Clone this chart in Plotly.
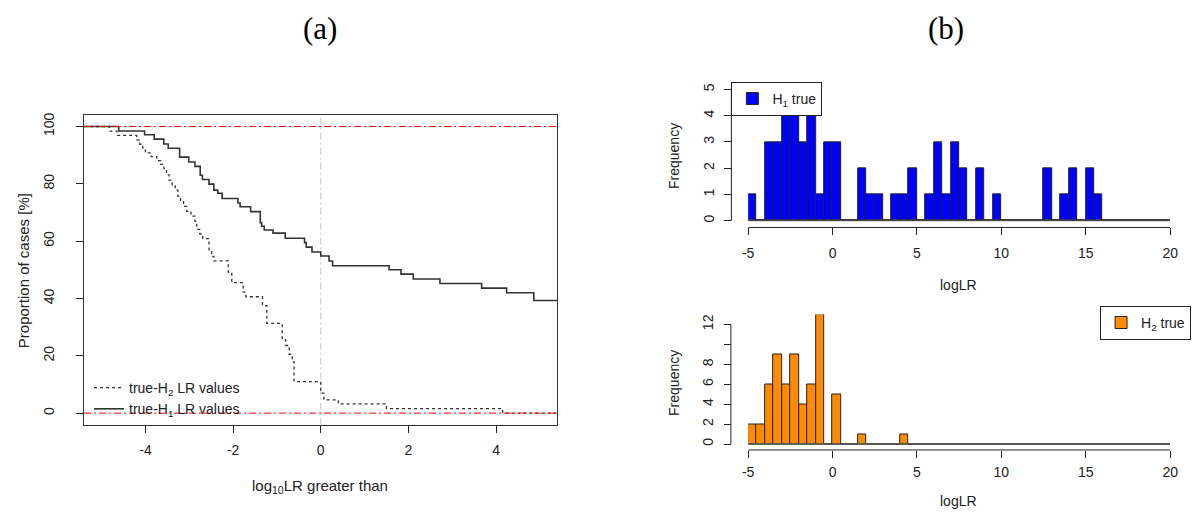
import plotly.graph_objects as go

# ---------------- panel (a): share of cases with log10 LR above a threshold ----------------
h1_x = [-5.4, -4.61, -4.02, -3.80, -3.58, -3.48, -3.22, -3.01, -2.87, -2.75, -2.70, -2.55,
        -2.44, -2.35, -2.25, -1.89, -1.84, -1.60, -1.38, -1.35, -1.29, -1.09, -0.81, -0.37,
        -0.33, -0.20, 0.00, 0.19, 0.27, 1.56, 1.83, 2.11, 2.72, 3.67, 4.24, 4.86, 5.4]
h1_pct = [100, 98.4, 97.1, 95.6, 93.9, 92.4, 89.3, 87.6, 86.1, 83.0, 81.5, 79.9,
          77.8, 76.7, 74.9, 73.3, 72.0, 70.3, 66.4, 65.2, 63.9, 62.8, 61.0, 59.5,
          57.9, 56.2, 54.8, 53.1, 51.4, 50.0, 48.5, 46.8, 45.2, 43.6, 42.0, 39.3, 39.3]

h2_x = [-5.4, -4.82, -4.65, -4.20, -4.13, -4.06, -4.00, -3.87, -3.74, -3.65, -3.58, -3.52,
        -3.46, -3.39, -3.32, -3.26, -3.20, -3.13, -3.06, -2.96, -2.87, -2.83, -2.76, -2.69,
        -2.55, -2.49, -2.44, -2.11, -2.03, -1.77, -1.71, -1.33, -1.23, -0.88, -0.80, -0.72,
        -0.65, -0.61, 0.00, 0.07, 0.40, 1.50, 4.15, 5.4]
h2_pct = [100, 98.4, 96.9, 95.3, 93.8, 92.2, 90.8, 89.5, 88.1, 86.8, 85.3, 83.1,
          81.3, 79.6, 77.8, 75.6, 73.8, 72.1, 70.4, 68.7, 66.9, 64.1, 62.5, 60.9,
          56.6, 54.7, 53.1, 49.1, 45.5, 42.2, 40.6, 37.5, 31.3, 25.6, 23.6, 20.5,
          17.9, 11.0, 7.0, 4.6, 3.2, 1.6, 0.0, 0.0]

ref_pct = [0, 100]          # horizontal reference levels
ref_threshold = 0           # vertical reference threshold
a_xticks = [-4, -2, 0, 2, 4]
a_xticktext = ["-4", "-2", "0", "2", "4"]
a_yticks = [0, 20, 40, 60, 80, 100]

# ---------------- panel (b): histograms of logLR ----------------
bin_start = -5.0
bin_width = 0.5
h1_counts = [1, 0, 3, 3, 4, 4, 3, 5, 1, 3,
             3, 0, 0, 2, 1, 1, 0, 1, 1, 2,
             0, 1, 3, 1, 3, 2, 0, 2, 0, 1,
             0, 0, 0, 0, 0, 2, 0, 1, 2, 0,
             2, 1, 0, 0, 0, 0, 0, 0, 0, 0]
h2_counts = [2, 2, 6, 9, 6, 9, 4, 6, 13, 0,
             5, 0, 0, 1, 0, 0, 0, 0, 1, 0,
             0, 0, 0, 0, 0, 0, 0, 0, 0, 0,
             0, 0, 0, 0, 0, 0, 0, 0, 0, 0,
             0, 0, 0, 0, 0, 0, 0, 0, 0, 0]
b_xticks = [-5, 0, 5, 10, 15, 20]
b_xticktext = ["-5", "0", "5", "10", "15", "20"]
b1_yticks = [0, 1, 2, 3, 4, 5]
b2_yticks = [0, 2, 4, 6, 8, 10, 12]
b2_yticktext = ["0", "2", "4", "6", "8", "", "12"]

W, H = 1192, 521
SANS = "Liberation Sans, Arial, sans-serif"
SERIF = "Liberation Serif, Times New Roman, serif"
INK = "#222222"
DASHDOT = "7px,3px,2px,3px"


def px_x(p):
    return p / W


def px_y(p):
    return 1 - p / H


centers = [bin_start + bin_width * (i + 0.5) for i in range(len(h1_counts))]
edges = [bin_start, bin_start + bin_width * len(h1_counts)]

fig = go.Figure()

# panel (a) curves
fig.add_trace(go.Scatter(
    x=h2_x, y=h2_pct, mode="lines", line=dict(shape="hv", color="#333333", width=1.3, dash="dot"),
    name="true-H<sub>2</sub> LR values", xaxis="x", yaxis="y", legend="legend"))
fig.add_trace(go.Scatter(
    x=h1_x, y=h1_pct, mode="lines", line=dict(shape="hv", color="#333333", width=1.6),
    name="true-H<sub>1</sub> LR values", xaxis="x", yaxis="y", legend="legend"))

# panel (b) histograms
fig.add_trace(go.Scatter(x=edges, y=[0, 0], mode="lines", line=dict(color="#444444", width=1.2),
                         showlegend=False, xaxis="x2", yaxis="y2", hoverinfo="skip"))
fig.add_trace(go.Bar(x=centers, y=h1_counts, width=bin_width, name="H<sub>1</sub> true",
                     marker=dict(color="#0000FF", line=dict(color=INK, width=1)),
                     xaxis="x2", yaxis="y2", legend="legend2"))
fig.add_trace(go.Scatter(x=edges, y=[0, 0], mode="lines", line=dict(color="#555555", width=1.5),
                         showlegend=False, xaxis="x3", yaxis="y3", hoverinfo="skip"))
fig.add_trace(go.Bar(x=centers, y=h2_counts, width=bin_width, name="H<sub>2</sub> true",
                     marker=dict(color="#FF8C00", line=dict(color=INK, width=1)),
                     xaxis="x3", yaxis="y3", legend="legend3"))

tickfont = dict(family=SANS, size=14, color=INK)
common = dict(showgrid=False, zeroline=False, ticks="outside", ticklen=7, tickcolor=INK,
              tickwidth=1, tickfont=tickfont)

b_dom_x = [px_x(751), px_x(1178)]
b1_xpos = px_y(224.5)
b2_xpos = px_y(450)
b1_ypos = px_x(734)
b2_ypos = px_x(733.5)

fig.update_layout(
    width=W, height=H, autosize=False,
    margin=dict(l=0, r=0, t=0, b=0),
    paper_bgcolor="white", plot_bgcolor="white",
    bargap=0,
    font=dict(family=SANS, size=14, color=INK),
    xaxis=dict(domain=[px_x(79), px_x(558)], range=[-5.4, 5.4], tickvals=a_xticks,
               ticktext=a_xticktext,
               showline=True, mirror=True, linecolor="#333333", linewidth=1.2,
               anchor="y", ticklabelstandoff=6, **common),
    yaxis=dict(domain=[px_y(424.3), px_y(110.5)], range=[-4, 104], tickvals=a_yticks,
               tickangle=-90, showline=True, mirror=True, linecolor="#333333", linewidth=1.2,
               anchor="x", ticklabelstandoff=16, **common),
    xaxis2=dict(domain=b_dom_x, range=[-5, 20], tickvals=b_xticks, ticktext=b_xticktext,
                anchor="free", position=b1_xpos, showline=False, ticklabelstandoff=6, **common),
    yaxis2=dict(domain=[px_y(218.6), px_y(84.5)], range=[-0.04, 5], tickvals=b1_yticks,
                tickangle=-90, anchor="free", position=b1_ypos, showline=False,
                ticklabelstandoff=5, **common),
    xaxis3=dict(domain=b_dom_x, range=[-5, 20], tickvals=b_xticks, ticktext=b_xticktext,
                anchor="free", position=b2_xpos, showline=False, ticklabelstandoff=2, **common),
    yaxis3=dict(domain=[px_y(445), px_y(312.7)], range=[-0.1, 13], tickvals=b2_yticks,
                ticktext=b2_yticktext, tickangle=-90, anchor="free", position=b2_ypos,
                showline=False, ticklabelstandoff=5, **common),
    legend=dict(x=px_x(84), y=px_y(371), xanchor="left", yanchor="top",
                bgcolor="rgba(0,0,0,0)", font=dict(family=SANS, size=14, color=INK),
                tracegroupgap=0, itemwidth=30),
    legend2=dict(x=b1_ypos, y=px_y(77), xanchor="left", yanchor="top", bgcolor="white",
                 bordercolor=INK, borderwidth=1, font=dict(family=SANS, size=14, color=INK)),
    legend3=dict(x=1.006, y=px_y(304), xanchor="right", yanchor="top", bgcolor="white",
                 bordercolor=INK, borderwidth=1, font=dict(family=SANS, size=14, color=INK)),
)

shapes = []
# reference lines in panel (a)
for lvl in ref_pct:
    shapes.append(dict(type="line", xref="x domain", yref="y", x0=0, x1=1, y0=lvl, y1=lvl,
                       line=dict(color="#FF0000", width=1, dash=DASHDOT), layer="above"))
shapes.append(dict(type="line", xref="x", yref="y domain", x0=ref_threshold, x1=ref_threshold,
                   y0=0, y1=1, line=dict(color="#C4C4C4", width=1, dash=DASHDOT), layer="below"))
# R-style axis lines spanning the tick range only
for xa, ya, ypos in (("x2", "y2", b1_xpos), ("x3", "y3", b2_xpos)):
    shapes.append(dict(type="line", xref=xa, yref="paper", x0=b_xticks[0], x1=b_xticks[-1],
                       y0=ypos, y1=ypos, line=dict(color=INK, width=1)))
for ya, xpos, ticks in (("y2", b1_ypos, b1_yticks), ("y3", b2_ypos, b2_yticks)):
    shapes.append(dict(type="line", xref="paper", yref=ya, x0=xpos, x1=xpos,
                       y0=ticks[0], y1=ticks[-1], line=dict(color=INK, width=1)))
fig.update_layout(shapes=shapes)

ann = [
    dict(text="(a)", x=px_x(318), y=px_y(23), font=dict(family=SERIF, size=31, color="#000")),
    dict(text="(b)", x=px_x(951), y=px_y(23), font=dict(family=SERIF, size=31, color="#000")),
    dict(text="Proportion of cases [%]", x=px_x(18), y=px_y(268), textangle=-90,
         font=dict(family=SANS, size=15, color=INK)),
    dict(text="log<sub>10</sub>LR greater than", x=px_x(318), y=px_y(487),
         font=dict(family=SANS, size=15, color=INK)),
    dict(text="Frequency", x=px_x(676), y=px_y(152), textangle=-90,
         font=dict(family=SANS, size=14, color=INK)),
    dict(text="logLR", x=px_x(964), y=px_y(283), font=dict(family=SANS, size=14, color=INK)),
    dict(text="Frequency", x=px_x(676), y=px_y(382), textangle=-90,
         font=dict(family=SANS, size=14, color=INK)),
    dict(text="logLR", x=px_x(964), y=px_y(502), font=dict(family=SANS, size=14, color=INK)),
]
for a in ann:
    a.update(xref="paper", yref="paper", showarrow=False, xanchor="center", yanchor="middle")
fig.update_layout(annotations=ann)

fig.write_html("out.html")
